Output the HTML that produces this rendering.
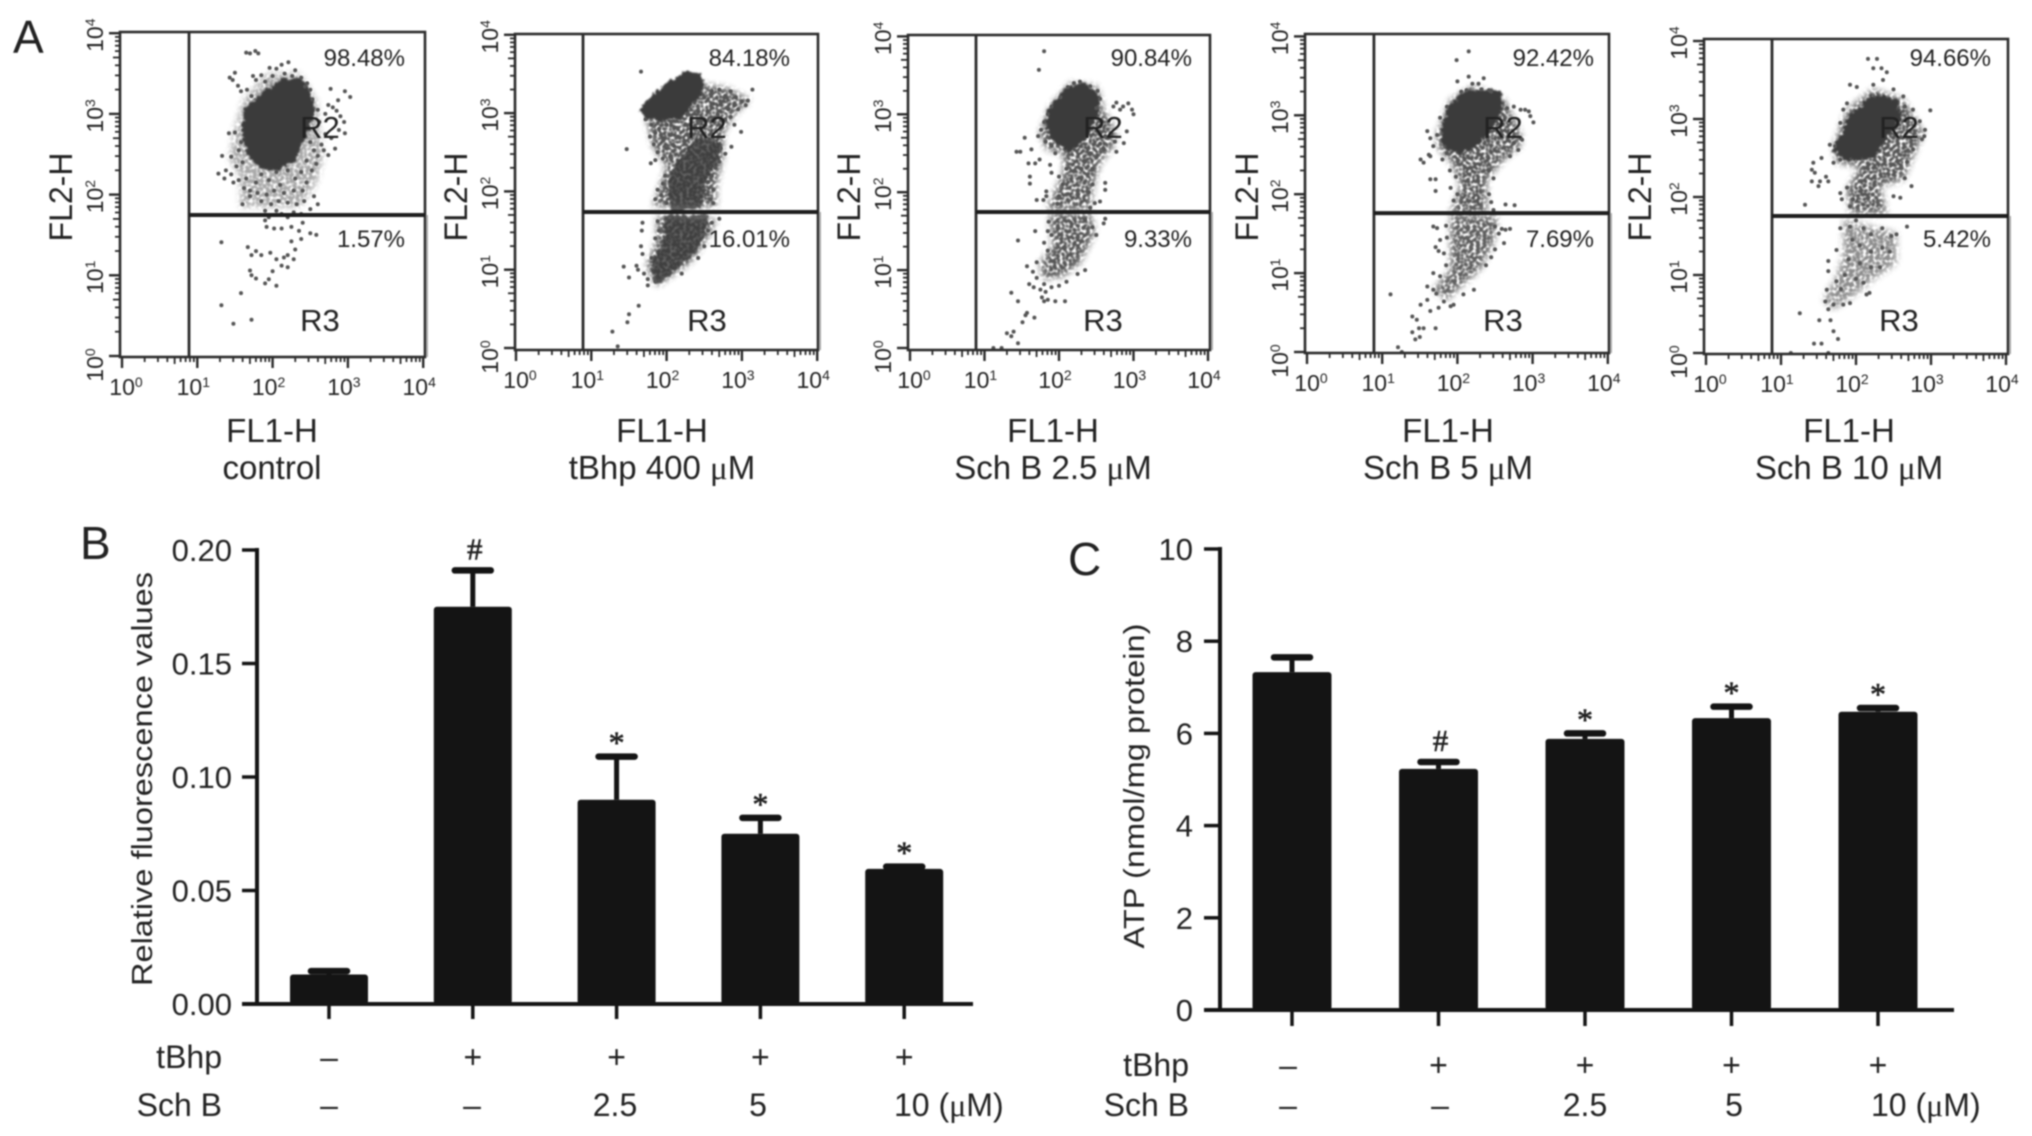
<!DOCTYPE html>
<html lang="en">
<head>
<meta charset="utf-8">
<title>Flow cytometry and bar charts</title>
<style>
html,body{margin:0;padding:0;background:#fff;width:2032px;height:1136px;overflow:hidden}
#figure{display:block;filter:blur(0.7px)}
text{font-family:"Liberation Sans",sans-serif;fill:#222}
</style>
</head>
<body>
<svg id="figure" xmlns="http://www.w3.org/2000/svg" width="2032" height="1136" viewBox="0 0 2032 1136">
<defs>
<filter id="softMid" x="-25%" y="-25%" width="150%" height="150%" color-interpolation-filters="sRGB">
<feGaussianBlur in="SourceGraphic" stdDeviation="3.5" result="b"/>
<feTurbulence type="fractalNoise" baseFrequency="0.3" numOctaves="1" seed="4" result="n"/>
<feColorMatrix in="n" type="matrix" values="0 0 0 0 0  0 0 0 0 0  0 0 0 0 0  3.2 0 0 0 -0.85" result="t"/>
<feComposite in="b" in2="t" operator="in"/>
</filter>
<filter id="softDense" x="-20%" y="-20%" width="140%" height="140%" color-interpolation-filters="sRGB">
<feTurbulence type="fractalNoise" baseFrequency="0.22" numOctaves="2" seed="7" result="n"/>
<feDisplacementMap in="SourceGraphic" in2="n" scale="9" xChannelSelector="R" yChannelSelector="G" result="d"/>
<feGaussianBlur in="d" stdDeviation="0.9"/>
</filter>
</defs>
<rect width="2032" height="1136" fill="#fff"/>
<text x="13" y="53" font-size="46">A</text>
<text x="80" y="559" font-size="46">B</text>
<text x="1068" y="575" font-size="46">C</text>
</svg>
<script>
// ---------- Flow cytometry data (values are log10 of FL1-H / FL2-H) ----------
const flowCaptions = ['control', 'tBhp 400 ', 'Sch B 2.5 ', 'Sch B 5 ', 'Sch B 10 '];
const r2Percent = ['98.48%', '84.18%', '90.84%', '92.42%', '94.66%'];
const r3Percent = ['1.57%', '16.01%', '9.33%', '7.69%', '5.42%'];
const gateFl1 = [0.89, 0.89, 0.886, 0.89, 0.88];
const gateFl2 = [1.747, 1.737, 1.746, 1.76, 1.756];
const decadeExponents = [0, 1, 2, 3, 4];

const p1Dense = [[1.68,3.05],[1.88,3.21],[2.14,3.38],[2.36,3.38],[2.47,3.21],[2.5,3.01],[2.38,2.72],[2.27,2.47],[2.05,2.35],[1.88,2.37],[1.72,2.51],[1.65,2.76]];
const p1Mid = [[1.48,2.76],[1.61,3.17],[1.92,3.5],[2.36,3.5],[2.58,3.17],[2.63,2.76],[2.67,2.47],[2.58,2.14],[2.36,1.85],[1.57,1.85],[1.57,2.22],[1.43,2.43]];
const p1Lower = [];
const p1Points = [[1.65,3.76],[1.7,3.75],[1.77,3.78],[1.81,3.75],[1.43,3.45],[1.5,3.51],[1.54,3.35],[1.47,3.42],[1.58,3.28],[1.74,3.47],[1.78,3.42],[1.66,3.3],[1.85,3.48],[1.96,3.57],[2.05,3.56],[2.21,3.64],[2.12,3.61],[2.3,3.54],[2.38,3.45],[2.43,3.34],[2,3.47],[2.16,3.5],[2.26,3.47],[2.46,3.38],[1.9,3.4],[1.72,3.22],[2.5,3.3],[2.53,3.18],[2.77,3.31],[2.96,3.28],[3.03,3.21],[2.87,3.17],[2.74,3.11],[2.8,3.08],[2.6,3.05],[2.85,3.04],[2.9,2.97],[2.7,3],[2.95,2.9],[2.96,2.76],[2.83,2.57],[2.74,2.49],[2.88,2.8],[2.62,2.9],[2.7,2.75],[2.78,2.7],[2.65,2.62],[2.55,2.55],[2.6,2.48],[2.68,2.55],[2.5,2.65],[2.45,2.42],[2.58,2.38],[2.52,2.3],[1.42,2.76],[1.5,2.77],[1.58,2.65],[1.55,2.55],[1.33,2.48],[1.45,2.47],[1.38,2.3],[1.36,2.2],[1.45,2.25],[1.6,2.4],[1.52,2.35],[1.28,2.26],[1.55,2.18],[1.48,2.15],[1.65,2.2],[1.62,2.08],[1.7,2.05],[1.78,2.15],[1.8,2.02],[1.7,1.98],[1.6,1.88],[1.85,2.25],[1.95,2.18],[2.05,2.28],[2.1,2.12],[2.2,2.3],[2.3,2.2],[2.38,2.28],[2.45,2.15],[2.4,2.05],[2.28,2.05],[2.15,2.02],[2.02,2.05],[1.92,2],[1.85,1.92],[1.98,1.88],[2.08,1.92],[2.2,1.9],[2.32,1.88],[2.42,1.92],[2.55,1.98],[2.6,1.88],[2.5,1.82],[1.9,1.8],[2.05,1.8],[2.12,1.76],[2.28,1.78],[2.38,1.76],[1.95,1.72],[2.2,1.72],[1.9,1.68],[1.92,1.6],[2.02,1.58],[2.12,1.58],[2.25,1.6],[2.35,1.55],[2.4,1.65],[2.5,1.52],[2.58,1.5],[2.38,1.45],[2.25,1.42],[1.32,1.41],[1.67,1.35],[1.78,1.3],[1.72,1.25],[1.85,1.25],[1.97,1.28],[2.2,1.25],[2.3,1.32],[2.28,1.2],[2.15,1.22],[2.05,1.2],[2.12,1.12],[2.2,1.1],[1.7,1.06],[1.72,1],[1.78,0.96],[2,1.05],[1.95,0.95],[1.9,0.9],[2.05,0.87],[1.58,0.78],[1.32,0.63],[1.72,0.45],[1.48,0.4]];

const p2Dense = [[1.71,3.04],[1.87,3.21],[2.04,3.34],[2.27,3.48],[2.42,3.45],[2.44,3.32],[2.29,3.13],[2.15,2.98],[1.91,2.96],[1.76,2.98]];
const p2Dense2 = [[2.4,2.66],[2.71,2.62],[2.66,2.4],[2.49,2.15],[2.44,1.81],[2.09,1.77],[2.05,2.15],[2.18,2.4]];
const p2Dense3 = [[2,1.68],[2.53,1.68],[2.49,1.47],[2.35,1.21],[2.09,1],[1.87,0.83],[1.82,1.09],[1.96,1.3],[2,1.47]];
const p2Mid = [[2.4,3.38],[2.8,3.32],[3.11,3.17],[2.88,2.96],[2.75,2.74],[2.75,2.45],[2.66,2.06],[2.66,1.81],[1.82,1.81],[1.91,2.06],[2,2.32],[1.82,2.57],[1.73,2.96],[2.09,3]];
const p2Lower = [[1.87,1.68],[2.66,1.64],[2.53,1.38],[2.31,1.09],[1.87,0.79],[1.73,1.04],[1.87,1.38]];
const p2Points = [[1.66,3.53],[3.14,3.3],[1.47,2.54],[2.99,2.76],[2.86,2.57],[1.79,2.36],[2.5,3.2],[2.6,3.28],[2.7,3.3],[2.78,3.22],[2.85,3.28],[2.92,3.2],[3,3.15],[3.05,3.1],[3.08,3.16],[2.95,3.05],[2.9,3.1],[2.82,3.05],[2.72,3.12],[2.62,3.12],[2.55,3.02],[2.68,2.98],[2.78,2.92],[2.85,2.95],[2.9,2.85],[2.72,2.82],[2.6,2.9],[2.5,2.92],[2.42,3.02],[1.72,2.92],[1.8,2.85],[1.85,2.75],[1.78,2.7],[1.83,2.6],[1.9,2.8],[2,2.85],[2.1,2.82],[1.95,2.68],[2.05,2.72],[2.15,2.7],[1.88,2.5],[2,2.55],[1.95,2.42],[2.05,2.45],[2.1,2.58],[1.85,2.4],[2.25,2.85],[2.38,2.82],[2.45,2.9],[2.72,2.55],[2.78,2.48],[2.7,2.38],[2.65,2.3],[2.6,2.2],[2.55,2.12],[2.62,2.02],[2.58,1.9],[2.62,1.85],[1.98,2.2],[1.95,2.1],[1.88,2.02],[1.85,1.9],[1.93,1.95],[2,1.85],[1.67,1.5],[1.68,1.6],[1.66,1.3],[1.68,1.2],[1.62,1],[1.43,1.04],[1.5,0.9],[1.6,1.05],[1.7,0.95],[1.75,0.88],[1.8,1.15],[1.85,1.4],[1.9,1.5],[1.88,1.62],[2.7,1.65],[2.6,1.6],[2.55,1.5],[2.5,1.3],[2.42,1.15],[2.2,0.95],[1.85,0.85],[1.75,0.8],[1.63,0.54],[1.5,0.43],[1.48,0.33],[1.28,0.21],[1.35,0.02]];

const p3Dense = [[1.92,3.06],[2.1,3.27],[2.33,3.35],[2.48,3.23],[2.46,3.01],[2.33,2.75],[2.15,2.58],[1.97,2.71],[1.88,2.89]];
const p3Mid = [[1.74,2.76],[1.88,3.1],[2.15,3.4],[2.51,3.36],[2.6,3.06],[2.77,2.76],[2.73,2.59],[2.55,2.37],[2.46,2.08],[2.42,1.78],[1.83,1.78],[2.06,2.25],[2.06,2.5],[1.83,2.55]];
const p3Lower = [[1.88,1.73],[2.42,1.73],[2.48,1.48],[2.28,1.09],[2.06,0.92],[1.79,0.88],[1.74,1.09],[1.92,1.31],[1.88,1.52]];
const p3Points = [[1.8,3.81],[1.73,3.57],[2.77,3.15],[2.86,3.1],[2.98,3.06],[2.93,3.14],[3,3],[2.82,3.06],[2.73,3.1],[2.87,2.63],[2.77,2.52],[2.91,2.78],[1.54,2.7],[1.43,2.52],[1.48,2.52],[1.63,2.55],[1.59,2.37],[1.68,2.37],[1.74,2.42],[1.61,2.2],[1.61,2.11],[1.88,2.35],[1.9,2.25],[1.7,1.9],[1.79,1.9],[1.83,2.01],[1.83,1.95],[2.62,2.12],[2.62,2.03],[2.55,1.88],[2.48,1.86],[1.72,2.72],[1.76,2.8],[1.8,2.9],[1.85,3],[1.9,3.1],[1.82,2.65],[1.9,2.6],[1.95,2.5],[2.02,3.22],[2.12,3.35],[2.2,3.4],[2.28,3.42],[2.42,3.36],[2.52,3.3],[2.55,3.2],[2.5,3.08],[2.55,2.85],[2.62,2.72],[2.7,2.75],[2.75,2.65],[2.6,2.55],[2.5,2.45],[2.55,2.62],[2.42,2.5],[2.35,2.4],[2.3,2.3],[2.45,2.3],[2,2.2],[2.05,2.1],[2.1,2.3],[2.45,2.1],[2.4,2],[2,1.95],[1.98,1.85],[2.42,1.8],[1.86,1.62],[1.85,1.5],[1.9,1.45],[2.35,1.65],[2.45,1.55],[2.5,1.45],[2.6,1.6],[2.62,1.66],[1.68,1.5],[1.45,1.38],[1.8,1.35],[1.85,1.25],[1.7,1.1],[1.57,1.05],[1.65,0.98],[1.7,0.9],[1.6,0.82],[1.66,0.78],[1.75,0.75],[1.82,0.72],[1.9,0.78],[2,0.8],[2.1,0.85],[2.25,0.95],[2.35,1],[1.8,0.82],[1.77,0.65],[1.8,0.6],[1.85,0.62],[1.95,0.6],[2.08,0.6],[1.36,0.71],[1.45,0.6],[1.57,0.45],[1.51,0.33],[1.67,0.39],[1.55,0.42],[1.3,0.19],[1.39,0.21],[1.36,0.15],[1.45,0.06],[1.12,0],[1.23,0]];

const p4Dense = [[1.84,2.82],[1.95,3.11],[2.13,3.26],[2.53,3.26],[2.55,3.11],[2.39,2.82],[2.26,2.69],[2.04,2.56],[1.89,2.63]];
const p4Mid = [[1.73,2.78],[1.91,3.2],[2.22,3.37],[2.62,3.2],[2.84,2.78],[2.84,2.61],[2.62,2.44],[2.39,2.18],[2.39,1.76],[1.91,1.76],[2.04,2.1],[1.95,2.35],[1.73,2.61]];
const p4Lower = [[1.91,1.74],[2.53,1.72],[2.48,1.38],[2.3,1.04],[2.04,0.83],[1.86,0.66],[1.68,0.79],[1.91,1.04],[1.91,1.38]];
const p4Points = [[2.15,3.81],[1.99,3.7],[2,3.43],[2.15,3.49],[2.35,3.47],[2.2,3.4],[2.28,3.4],[2.32,3.33],[2.42,3.32],[2.45,3.3],[2.12,3.32],[2.05,3.3],[2.95,3.05],[3.01,2.91],[2.9,3.07],[2.97,2.99],[2.84,3.07],[2.75,3.11],[2.66,3.09],[2.84,2.71],[2.81,2.56],[2.86,2.69],[2.75,2.65],[2.7,2.48],[1.6,2.8],[1.64,2.71],[1.73,2.75],[1.77,2.97],[1.86,3.11],[1.68,2.61],[1.62,2.5],[1.51,2.44],[1.55,2.4],[1.64,2.48],[1.8,2.44],[1.86,2.52],[1.64,2.19],[1.71,2.19],[1.71,2.04],[1.91,2.08],[2.64,1.87],[2.76,1.86],[2.48,1.8],[1.68,1.59],[1.73,1.57],[2.59,1.56],[2.7,1.56],[2.64,1.55],[2.5,1.59],[2.62,1.38],[2.5,1.3],[1.71,1.33],[1.77,1.42],[1.75,1.28],[1.68,1],[1.77,0.96],[1.6,0.83],[1.68,0.79],[1.72,0.74],[2.22,0.79],[2.08,0.73],[1.51,0.6],[1.6,0.66],[1.64,0.52],[1.75,0.56],[1.91,0.58],[1.95,0.6],[1.82,0.64],[1.11,0.73],[1.4,0.45],[1.46,0.41],[1.55,0.3],[1.49,0.3],[1.71,0.3],[1.4,0.25],[1.44,0.16],[1.5,0.19],[1.21,0.06],[1.26,0],[1.9,2.3],[1.98,2.22],[2.42,2.3],[2.48,2.2],[2,2],[1.95,1.92],[2.42,2],[2.45,1.9],[1.85,1.6],[1.86,1.45],[1.82,1.25],[2.55,1.5],[2.45,1.2],[2.38,1.1],[1.85,1.1]];

const p5Dense = [[1.79,2.69],[1.96,2.99],[2.23,3.25],[2.5,3.21],[2.54,3.03],[2.36,2.78],[2.19,2.56],[1.88,2.52],[1.76,2.61]];
const p5Mid = [[1.7,2.65],[1.88,3.12],[2.23,3.38],[2.63,3.25],[2.9,2.82],[2.76,2.52],[2.63,2.22],[2.32,2.14],[2.41,1.79],[1.92,1.79],[1.88,2.09],[2.05,2.39],[1.74,2.44]];
const p5Lower = [[1.83,1.71],[2.54,1.54],[2.54,1.15],[2.28,0.98],[1.96,0.73],[1.7,0.56],[1.56,0.68],[1.74,0.98],[1.83,1.28]];
const p5Points = [[2.16,3.77],[2.28,3.77],[2.23,3.65],[2.34,3.65],[2.41,3.6],[2.36,3.5],[1.92,3.44],[2.01,3.41],[2.23,3.44],[2.5,3.38],[2.63,3.29],[2.65,3.16],[2.99,3.11],[2.76,3.12],[2.85,2.97],[2.92,2.86],[2.91,2.78],[2.88,2.74],[2.76,2.61],[2.74,2.14],[2.59,1.99],[2.5,2.01],[2.65,2.24],[2.68,2.45],[1.83,3.12],[1.88,3.2],[1.79,2.95],[1.65,2.67],[1.72,2.65],[1.79,2.48],[1.7,2.44],[1.54,2.5],[1.43,2.44],[1.41,2.35],[1.45,2.31],[1.41,2.2],[1.52,2.2],[1.5,2.14],[1.63,2.2],[1.6,2.26],[1.32,1.9],[1.79,2.05],[1.88,2.12],[1.81,1.97],[1.92,1.88],[1.96,1.97],[1.79,1.6],[1.92,1.62],[2.68,1.62],[2.54,1.52],[2.47,1.5],[1.74,1.32],[1.63,1.18],[1.63,1.05],[1.74,0.92],[1.61,0.81],[1.59,0.66],[1.63,0.56],[1.7,0.62],[1.83,0.62],[1.92,0.64],[2.14,0.75],[2.18,0.77],[1.25,0.51],[1.51,0.42],[1.66,0.42],[1.7,0.28],[1.76,0.18],[1.44,0.12],[1.54,0.12],[1.13,0],[1.63,0],[2,1.7],[2.1,1.6],[2.2,1.52],[2.35,1.6],[1.95,1.45],[2.05,1.38],[2.2,1.3],[2.35,1.35],[2.45,1.3],[1.9,1.2],[2.05,1.15],[2.2,1.1],[2.32,1.1],[1.85,1],[2,0.95],[2.1,0.9],[1.8,0.82]];

const flowDense = [[p1Dense], [p2Dense, p2Dense2, p2Dense3], [p3Dense], [p4Dense], [p5Dense]];
const flowMid = [p1Mid, p2Mid, p3Mid, p4Mid, p5Mid];
const flowLower = [p1Lower, p2Lower, p3Lower, p4Lower, p5Lower];
const flowPoints = [p1Points, p2Points, p3Points, p4Points, p5Points];

// ---------- Bar chart data ----------
const bMeans = [0.013, 0.175, 0.09, 0.075, 0.0595];
const bUppers = [0.0145, 0.191, 0.109, 0.082, 0.0605];
const bMarks = ['', '#', '*', '*', '*'];
const bTicks = ['0.00', '0.05', '0.10', '0.15', '0.20'];
const bTickValues = [0, 0.05, 0.1, 0.15, 0.2];
const cMeans = [7.33, 5.23, 5.88, 6.33, 6.47];
const cUppers = [7.65, 5.38, 6.0, 6.58, 6.55];
const cMarks = ['', '#', '*', '*', '*'];
const cTicks = ['0', '2', '4', '6', '8', '10'];
const cTickValues = [0, 2, 4, 6, 8, 10];
const tBhpRow = ['\u2013', '+', '+', '+', '+'];
const schBRow = ['\u2013', '\u2013', '2.5', '5', '10'];

// ---------- Layout (pixels, separate from data) ----------
const flowLayout = [
  {l:120,r:425,t:32,b:357,x0:122,dx:75.3,y0:356,dy:80.7,cx:272,titleX:61,r2X:320,pctX:405,midOp:0.45,lowOp:0},
  {l:515,r:818,t:34,b:350,x0:516,dx:75.3,y0:348,dy:78.3,cx:662,titleX:456,r2X:707,pctX:790,midOp:0.9,lowOp:0.9},
  {l:908,r:1210,t:35,b:350,x0:910,dx:74.5,y0:348,dy:77.9,cx:1053,titleX:849,r2X:1103,pctX:1192,midOp:0.9,lowOp:0.9},
  {l:1305,r:1609,t:34,b:353,x0:1307,dx:75.2,y0:352,dy:78.9,cx:1448,titleX:1247,r2X:1503,pctX:1594,midOp:0.9,lowOp:0.85},
  {l:1704,r:2008,t:39,b:354,x0:1706,dx:75,y0:353,dy:78,cx:1849,titleX:1640,r2X:1899,pctX:1991,midOp:0.9,lowOp:0.6}
];
const barLayoutB = {axisX:257,right:973,y0:1004,ppu:2270,first:329,step:143.8,barW:78,tickEnd:1019,tickL:242,labelR:232,titleX:152,titleY:779,titleLen:414,
  row1Y:1068,row2Y:1116,rowLabelR:222,rowX:[329,472,615,758,0],lastX:894,name:'b',title:'Relative fluorescence values'};
const barLayoutC = {axisX:1220,right:1954,y0:1010,ppu:46.1,first:1292,step:146.5,barW:79,tickEnd:1026,tickL:1204,labelR:1193,titleX:1144,titleY:786,titleLen:325,
  row1Y:1076,row2Y:1116,rowLabelR:1189,rowX:[1288,1440,1585,1734,0],lastX:1871,name:'c',title:'ATP (nmol/mg protein)'};

// ---------- Drawing ----------
const svg = document.getElementById('figure');
const NS = 'http://www.w3.org/2000/svg';
function make(tag, attrs, parent, txt) {
  const e = document.createElementNS(NS, tag);
  for (const k in attrs) e.setAttribute(k, attrs[k]);
  if (txt !== undefined) e.textContent = txt;
  (parent || svg).appendChild(e);
  return e;
}

function drawFlowPanel(i) {
  const L = flowLayout[i];
  const sx = v => L.x0 + v * L.dx;
  const sy = v => L.y0 - v * L.dy;
  const polyStr = arr => arr.map(p => sx(p[0]).toFixed(1) + ',' + sy(p[1]).toFixed(1)).join(' ');
  const g = make('g', {});
  
  

  const mid = make('polygon', {points: polyStr(flowMid[i]), fill: '#444', opacity: L.midOp, filter: 'url(#softMid)'}, g);
  
  
  if (flowLower[i].length) {
    const low = make('polygon', {points: polyStr(flowLower[i]), fill: '#444', opacity: L.lowOp, filter: 'url(#softMid)'}, g);
    
    
  }
  flowDense[i].forEach(function (poly, k) {
    const d = make('polygon', {points: polyStr(poly), fill: '#3b3b3b', stroke: '#3b3b3b', 'stroke-width': k === 0 ? 9 : 4, 'stroke-linejoin': 'round', opacity: k === 0 ? 1 : 0.8, filter: 'url(#softDense)'}, g);
    
    
  });
  flowPoints[i].forEach(function (p) {
    const c = make('circle', {cx: sx(p[0]).toFixed(1), cy: sy(p[1]).toFixed(1), r: 2, fill: '#555'}, g);
    
    
  });

  // minor/major log ticks
  for (let d = 0; d < 4; d++) {
    for (let m = 1; m < 10; m++) {
      const v = d + Math.log10(m);
      const len = m === 1 ? 11 : (m === 5 ? 7 : 5);
      const tx = make('line', {x1: sx(v), x2: sx(v), y1: L.b, y2: L.b + len, stroke: '#2a2a2a', 'stroke-width': m === 1 ? 2.4 : 1.8}, g);
      
      
      const ty = make('line', {x1: L.l - len, x2: L.l, y1: sy(v), y2: sy(v), stroke: '#2a2a2a', 'stroke-width': m === 1 ? 2.4 : 1.8}, g);
      
      
    }
  }
  const tx4 = make('line', {x1: sx(4), x2: sx(4), y1: L.b, y2: L.b + 11, stroke: '#2a2a2a', 'stroke-width': 2.4}, g);
  
  
  const ty4 = make('line', {x1: L.l - 11, x2: L.l, y1: sy(4), y2: sy(4), stroke: '#2a2a2a', 'stroke-width': 2.4}, g);
  
  

  const box = make('rect', {x: L.l, y: L.t, width: L.r - L.l, height: L.b - L.t, fill: 'none', stroke: '#2c2c2c', 'stroke-width': 2.6}, g);
  
  
  const edge = make('line', {x1: L.r + 2, x2: L.r + 2, y1: sy(gateFl2[i]), y2: L.b, stroke: '#aaa', 'stroke-width': 2}, g);
  
  

  const gv = make('line', {x1: sx(gateFl1[i]), x2: sx(gateFl1[i]), y1: L.t, y2: L.b, stroke: '#2c2c2c', 'stroke-width': 2.8}, g);
  
  
  const gh = make('line', {x1: sx(gateFl1[i]), x2: L.r, y1: sy(gateFl2[i]), y2: sy(gateFl2[i]), stroke: '#1e1e1e', 'stroke-width': 4}, g);
  
  

  // decade labels
  decadeExponents.forEach(function (e, k) {
    const lx = sx(e) + (k === 0 ? 4 : -4);
    const xl = make('text', {x: lx, y: L.b + 38, 'font-size': 23, 'text-anchor': 'middle'}, g);
    
    
    make('tspan', {}, xl, '10');
    make('tspan', {dy: -8, 'font-size': 14}, xl, String(e));
    const yc = sy(e) + (k === 0 ? 9 : 2);
    const bx = L.l - 17;
    const yl = make('text', {x: bx, y: yc, 'font-size': 23, 'text-anchor': 'middle', transform: 'rotate(-90 ' + bx + ' ' + yc + ')'}, g);
    
    
    make('tspan', {}, yl, '10');
    make('tspan', {dy: -8, 'font-size': 14}, yl, String(e));
  });

  const r2 = make('text', {x: L.r2X, y: 138, 'font-size': 31, 'text-anchor': 'middle'}, g, 'R2');
  
  
  const r3 = make('text', {x: L.r2X, y: 331, 'font-size': 31, 'text-anchor': 'middle'}, g, 'R3');
  
  
  const p2 = make('text', {x: L.pctX, y: 66, 'font-size': 24, 'text-anchor': 'end'}, g, r2Percent[i]);
  
  
  const p3 = make('text', {x: L.pctX, y: 247, 'font-size': 24, 'text-anchor': 'end'}, g, r3Percent[i]);
  
  

  const xt = make('text', {x: L.cx, y: 442, 'font-size': 33, 'text-anchor': 'middle'}, g, 'FL1-H');
  
  
  const cap = make('text', {x: L.cx, y: 479, 'font-size': 33, 'text-anchor': 'middle'}, g);
  
  
  make('tspan', {}, cap, flowCaptions[i]);
  if (i > 0) {
    make('tspan', {style: 'font-family:"Liberation Serif",serif'}, cap, '\u03BC');
    make('tspan', {}, cap, 'M');
  }
  const ty = 197;
  const tbx = L.titleX + 11;
  const yt = make('text', {x: tbx, y: ty, 'font-size': 32, 'text-anchor': 'middle', transform: 'rotate(-90 ' + tbx + ' ' + ty + ')'}, g, 'FL2-H');
  
  
}

function drawBarChart(L, means, uppers, marks, tickLabels, tickValues) {
  const sy = v => L.y0 - v * L.ppu;
  const sx = i => L.first + i * L.step;
  const ink = '#141414';
  const g = make('g', {});
  
  

  means.forEach(function (m, i) {
    const stem = make('line', {x1: sx(i), x2: sx(i), y1: sy(uppers[i]), y2: sy(m), stroke: ink, 'stroke-width': 5}, g);
    
    
    const cap = make('line', {x1: sx(i) - 18, x2: sx(i) + 18, y1: sy(uppers[i]), y2: sy(uppers[i]), stroke: ink, 'stroke-width': 6.5, 'stroke-linecap': 'round'}, g);
    
    
    const bar = make('rect', {x: sx(i) - L.barW / 2, y: sy(m), width: L.barW, height: L.y0 - sy(m), rx: 3, fill: ink}, g);
    
    
    const tick = make('line', {x1: sx(i), x2: sx(i), y1: L.y0, y2: L.tickEnd, stroke: ink, 'stroke-width': 3.5}, g);
    
    
    if (marks[i]) {
      const hash = marks[i] === '#';
      const mk = make('text', {x: sx(i) + (hash ? 2 : 0), y: sy(uppers[i]) - (hash ? 11 : 3), 'font-size': hash ? 31 : 32, 'text-anchor': 'middle', stroke: '#222', 'stroke-width': 0.6, style: 'font-family:"Liberation Serif",serif'}, g, marks[i]);
      
      
    }
  });

  const ya = make('line', {x1: L.axisX, x2: L.axisX, y1: sy(tickValues[tickValues.length - 1]) - 2, y2: L.y0 + 2, stroke: ink, 'stroke-width': 4}, g);
  
  
  const xa = make('line', {x1: L.tickL, x2: L.right, y1: L.y0, y2: L.y0, stroke: ink, 'stroke-width': 4}, g);
  
  

  tickValues.forEach(function (v, i) {
    const t = make('line', {x1: L.tickL, x2: L.axisX, y1: sy(v), y2: sy(v), stroke: ink, 'stroke-width': 3.5}, g);
    
    
    const lb = make('text', {x: L.labelR, y: sy(v) + 11, 'font-size': 31, 'text-anchor': 'end'}, g, tickLabels[i]);
    
    
  });

  const title = make('text', {x: L.titleX, y: L.titleY, 'font-size': 29, 'text-anchor': 'middle', textLength: L.titleLen, lengthAdjust: 'spacingAndGlyphs', transform: 'rotate(-90 ' + L.titleX + ' ' + L.titleY + ')'}, g, L.title);
  
  

  const rowA = make('text', {x: L.rowLabelR, y: L.row1Y, 'font-size': 32, 'text-anchor': 'end'}, g, 'tBhp');
  
  
  const rowB = make('text', {x: L.rowLabelR, y: L.row2Y, 'font-size': 32, 'text-anchor': 'end'}, g, 'Sch B');
  
  

  tBhpRow.forEach(function (s, i) {
    const tx = s === '+' ? sx(i) : L.rowX[i];
    const t = make('text', {x: tx, y: L.row1Y, 'font-size': 32, 'text-anchor': 'middle'}, g, s);
    
    
  });
  schBRow.forEach(function (s, i) {
    if (i === schBRow.length - 1) {
      const t = make('text', {x: L.lastX, y: L.row2Y, 'font-size': 32}, g);
      
      
      make('tspan', {}, t, s + ' (');
      make('tspan', {style: 'font-family:"Liberation Serif",serif'}, t, '\u03BC');
      make('tspan', {}, t, 'M)');
    } else {
      const t = make('text', {x: L.rowX[i], y: L.row2Y, 'font-size': 32, 'text-anchor': 'middle'}, g, s);
      
      
    }
  });
}

flowLayout.forEach(function (_, i) { drawFlowPanel(i); });
drawBarChart(barLayoutB, bMeans, bUppers, bMarks, bTicks, bTickValues);
drawBarChart(barLayoutC, cMeans, cUppers, cMarks, cTicks, cTickValues);
</script>
</body>
</html>
